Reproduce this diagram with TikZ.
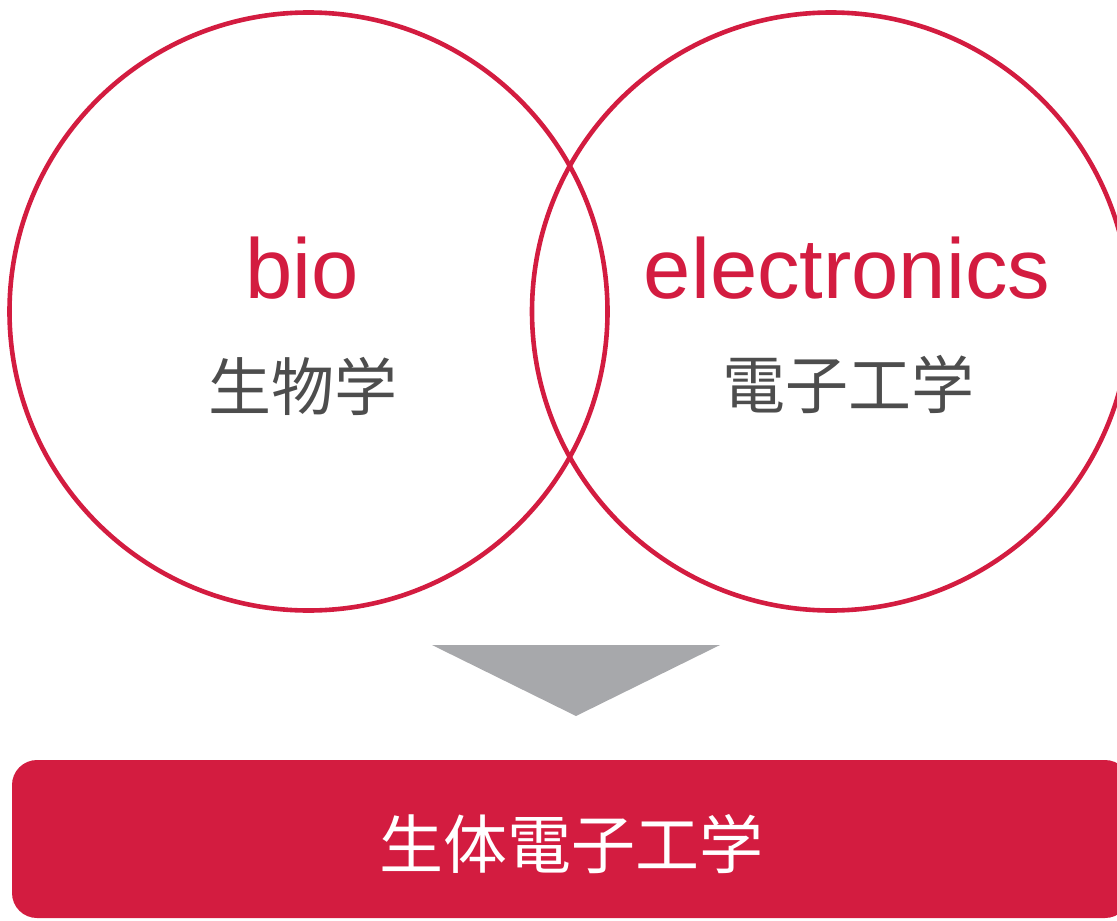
\documentclass[tikz,border=0pt]{standalone}
\usepackage{fontspec}
\setmainfont{Liberation Sans}
\newfontfamily\jafont{Noto Sans CJK JP}
\usetikzlibrary{positioning}
\definecolor{bered}{HTML}{D31C40}
\definecolor{begray}{HTML}{4D4D4D}
\definecolor{arrowgray}{HTML}{A7A8AB}
\tikzset{
  ring/.style={draw=bered, line width=2.3pt, circle, minimum size=299pt, inner sep=0pt},
  entext/.style={text=bered, font=\fontsize{42.5}{42.5}\selectfont, inner sep=0pt, anchor=base},
  jatext/.style={text=begray, font=\jafont\fontsize{31.5}{31.5}\selectfont, inner sep=0pt},
  resultbox/.style={fill=bered, rounded corners=12.5pt, minimum width=559pt, minimum height=79pt,
    text=white, font=\jafont\fontsize{32}{32}\selectfont, text height=29pt, text depth=0pt},
}
\begin{document}
\begin{tikzpicture}[x=0.5pt, y=-0.5pt]
    \useasboundingbox (0,0) rectangle (1117,920);
    % two fields
    \node[ring] (biocircle) at (308.5,311.5) {};
    \node[ring] (eleccircle) at (831,311.5) {};
    \node[entext] (bio) at (302,298) {bio};
    \node[jatext] (bioja) at (303,386) {生物学};
    \node[entext] (elec) at (847,298) {electronics};
    \node[jatext] (elecja) at (848,384) {電子工学};
    % arrow down
    \coordinate (tl) at (432,645);
    \coordinate (tr) at (720,645);
    \coordinate (tip) at (576,716);
    \fill[arrowgray] (tl) -- (tr) -- (tip) -- cycle;
    % result
    \node[resultbox] (result) at (571,839) {生体電子工学};
  \end{tikzpicture}
\end{document}
